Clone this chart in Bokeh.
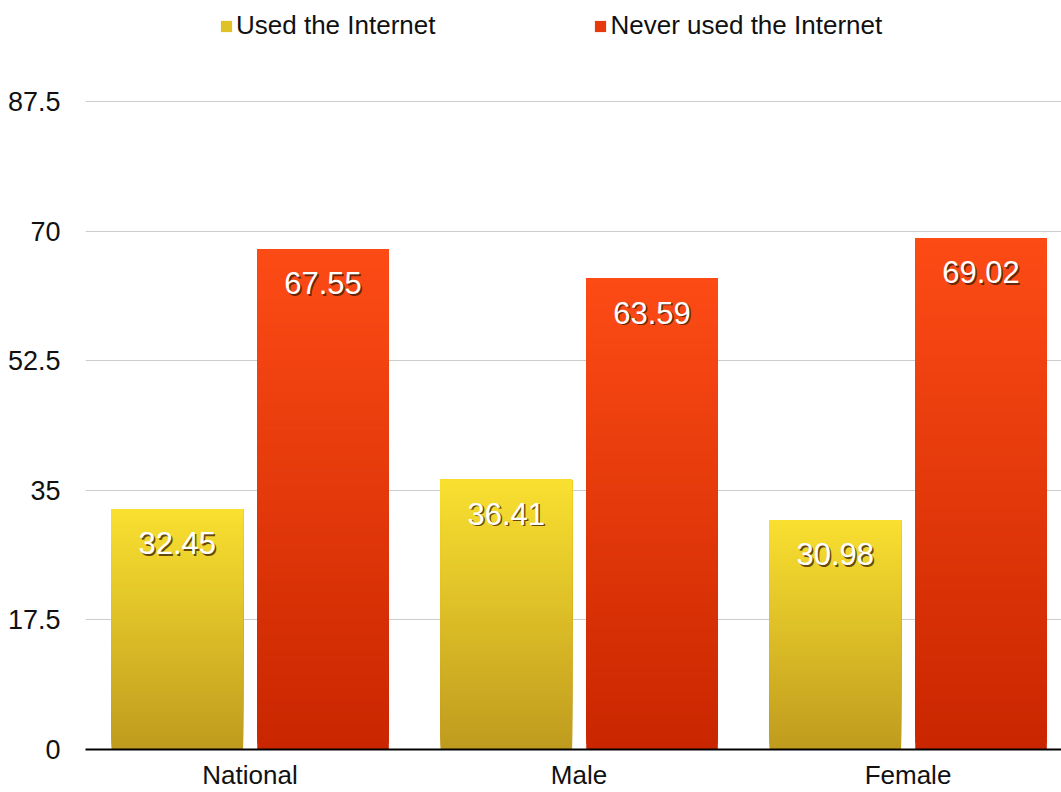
from bokeh.plotting import figure
from bokeh.models import (ColumnDataSource, Range1d, FixedTicker, Legend, LegendItem)
from bokeh.core.properties import value
from bokeh.embed import file_html
from bokeh.resources import INLINE

categories = ["National", "Male", "Female"]
used = [32.45, 36.41, 30.98]
never = [67.55, 63.59, 69.02]
series_names = ["Used the Internet", "Never used the Internet"]
y_ticks = [0, 17.5, 35, 52.5, 70, 87.5]
y_tick_labels = ["0", "17.5", "35", "52.5", "70", "87.5"]

FONT = "Liberation Sans"
N = 80

def hex2rgb(h):
    h = h.lstrip("#")
    return tuple(int(h[i:i + 2], 16) for i in (0, 2, 4))

def lerp(c1, c2, t):
    a, b = hex2rgb(c1), hex2rgb(c2)
    return "#%02x%02x%02x" % tuple(int(round(a[k] + (b[k] - a[k]) * t)) for k in range(3))

grads = [("#bf9b1e", "#f9e030"), ("#c92600", "#fd4b15")]
offsets = [-0.221, 0.222]
bar_w = 0.40

# frame spans from top of page to the baseline; 87.5 sits 648 px above 0
PX = 87.5 / 648.0
FRAME_H = 749
p = figure(width=1061, height=792, output_backend="svg", toolbar_location=None,
           x_range=Range1d(0, 976 / 329), y_range=Range1d(0, FRAME_H * PX),
           min_border_left=85, min_border_right=0, min_border_top=0, min_border_bottom=43)
p.outline_line_color = None
p.background_fill_color = "white"
p.border_fill_color = "white"

legend_items = []
for si, vals in enumerate([used, never]):
    xs, bots, tops, cols = [], [], [], []
    for ci, v in enumerate(vals):
        for i in range(N):
            xs.append(ci + 0.5 + offsets[si])
            bots.append(v * i / N)
            tops.append(v)
            cols.append(lerp(grads[si][0], grads[si][1], (i + 0.5) / N))
    src = ColumnDataSource(dict(x=xs, bottom=bots, top=tops, color=cols))
    p.vbar(x="x", bottom="bottom", top="top", width=bar_w, fill_color="color",
           line_color=None, source=src)
    sw = p.rect(x=[0], y=[0], width=0, height=0,
                fill_color=lerp(grads[si][0], grads[si][1], 0.55), line_color=None)
    legend_items.append(LegendItem(label=series_names[si], renderers=[sw]))

    lx = [ci + 0.5 + offsets[si] for ci in range(len(vals))]
    labels = ["%.2f" % v for v in vals]
    lsrc = ColumnDataSource(dict(x=lx, y=vals, t=labels))
    p.text(x="x", y="y", text="t", source=lsrc, text_color="#3a1a00", text_alpha=0.75,
           text_font=value(FONT), text_font_size="31px", text_align="center",
           text_baseline="middle", x_offset=1.5, y_offset=35.5)
    p.text(x="x", y="y", text="t", source=lsrc, text_color="white",
           text_font=value(FONT), text_font_size="31px", text_align="center",
           text_baseline="middle", y_offset=34)

legend = Legend(items=legend_items, orientation="horizontal",
                location=(219 - 85, FRAME_H - 41), padding=0, margin=0,
                spacing=158, glyph_width=14, glyph_height=14, label_standoff=3,
                label_text_font=FONT, label_text_font_size="26px",
                label_text_color="#111111", border_line_color=None,
                background_fill_alpha=0)
p.add_layout(legend, "center")

p.yaxis.ticker = FixedTicker(ticks=y_ticks)
p.yaxis.major_label_overrides = {t: l for t, l in zip(y_ticks, y_tick_labels)}
p.yaxis.axis_line_color = None
p.yaxis.major_tick_line_color = None
p.yaxis.minor_tick_line_color = None
p.yaxis.major_label_standoff = 19
p.yaxis.major_label_text_font = FONT
p.yaxis.major_label_text_font_size = "27px"
p.yaxis.major_label_text_color = "#111111"

x_ticks = [i + 0.5 for i in range(len(categories))]
p.xaxis.ticker = FixedTicker(ticks=x_ticks)
p.xaxis.major_label_overrides = {t: c for t, c in zip(x_ticks, categories)}
p.xaxis.axis_line_color = "black"
p.xaxis.axis_line_width = 2
p.xaxis.major_tick_line_color = None
p.xaxis.minor_tick_line_color = None
p.xaxis.major_label_standoff = 4
p.xaxis.major_label_text_font = FONT
p.xaxis.major_label_text_font_size = "26px"
p.xaxis.major_label_text_color = "#111111"

p.xgrid.grid_line_color = None
p.ygrid.grid_line_color = "#cccccc"
p.ygrid.grid_line_width = 1

open("out.html", "w").write(file_html(p, INLINE))
